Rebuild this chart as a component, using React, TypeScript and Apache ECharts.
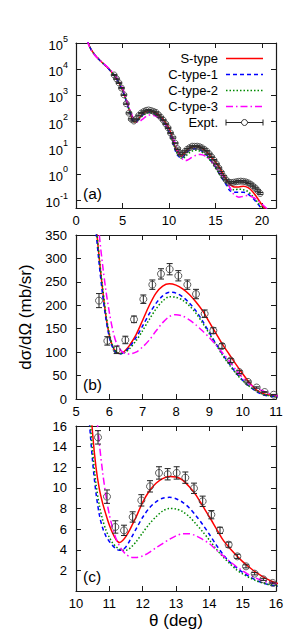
import React, { useEffect, useRef } from 'react';
import * as echarts from 'echarts';

// ---------- data ----------
const theta = [1.2, 1.5, 2.0, 2.5, 3.0, 3.5, 4.0, 4.5, 5.0, 5.25,
  5.5, 5.6, 5.7, 5.8, 5.9, 6.0, 6.1, 6.2, 6.3, 6.4, 6.5, 6.6,
  6.8, 7.0, 7.2, 7.4, 7.6, 7.8, 8.0, 8.2, 8.4, 8.6, 8.8, 9.0, 9.2, 9.4, 9.6, 9.8, 10.0, 10.2, 10.4,
  10.5, 10.6, 10.7, 10.8, 10.9, 11.0, 11.1, 11.2, 11.3, 11.4, 11.5, 11.6, 11.7, 11.8,
  12.0, 12.2, 12.4, 12.6, 12.8, 13.0, 13.2, 13.4, 13.6, 13.8, 14.0, 14.2, 14.4, 14.6, 14.8, 15.0, 15.2, 15.4, 15.6, 15.8, 16.0,
  16.5, 17.0, 17.5, 18.0, 18.5, 19.0, 19.5, 20.0, 20.5, 21.0, 21.6];

const sType = [130000, 68000, 36000, 23000, 15500, 10500, 6500, 3600, 1600, 920,
  490, 375, 298, 232, 176, 136, 112, 101, 97, 99, 105, 114,
  137, 168, 200, 226, 241, 246, 243, 235, 223, 207, 188, 164, 140, 116, 95, 74, 54, 35, 20,
  15.2, 12.0, 9.9, 8.5, 7.4, 6.4, 5.6, 5.0, 4.7, 4.9, 5.3, 5.85, 6.5, 7.15,
  8.6, 9.7, 10.45, 10.9, 11.1, 11.05, 10.75, 10.1, 9.3, 8.25, 7.2, 6.1, 5.0, 4.2, 3.5, 2.85, 2.3, 1.8, 1.4, 1.05, 0.78,
  0.42, 0.32, 0.32, 0.34, 0.3, 0.21, 0.12, 0.065, 0.04, 0.025, 0.015];

const cType1 = [130000, 68000, 36000, 23000, 15500, 10400, 6400, 3550, 1550, 900,
  470, 360, 285, 222, 170, 132, 110, 99, 96, 98, 103, 110,
  131, 156, 182, 204, 220, 228, 226, 218, 205, 188, 166, 142, 118, 95, 75, 56, 40, 27, 16.5,
  12.5, 9.5, 7.4, 6.1, 5.3, 4.8, 4.4, 4.1, 3.95, 4.0, 4.3, 4.8, 5.4, 6.0,
  7.15, 8.05, 8.65, 9.0, 9.08, 8.95, 8.6, 8.05, 7.3, 6.45, 5.5, 4.5, 3.6, 2.85, 2.3, 1.8, 1.4, 1.05, 0.78, 0.6, 0.48,
  0.24, 0.2, 0.2, 0.2, 0.17, 0.12, 0.075, 0.045, 0.03, 0.02, 0.012];

const cType2 = [130000, 68000, 36000, 23000, 15500, 10450, 6450, 3580, 1580, 930,
  500, 380, 300, 238, 180, 140, 114, 101, 97, 97, 101, 107,
  124, 146, 170, 192, 209, 218, 217, 211, 199, 183, 162, 139, 116, 93, 73, 54, 39, 27, 17.5,
  13.5, 10.4, 8.3, 6.9, 5.9, 5.2, 4.65, 4.3, 4.05, 3.95, 3.95, 4.1, 4.4, 4.75,
  5.65, 6.5, 7.2, 7.75, 8.0, 7.95, 7.7, 7.2, 6.5, 5.75, 4.95, 4.1, 3.35, 2.7, 2.1, 1.65, 1.3, 1.0, 0.78, 0.62, 0.55,
  0.3, 0.25, 0.26, 0.25, 0.21, 0.14, 0.085, 0.05, 0.035, 0.022, 0.014];

const cType3 = [125000, 66000, 35000, 23000, 16000, 11000, 7000, 4000, 1900, 1100,
  560, 440, 350, 285, 230, 185, 148, 122, 108, 100, 97, 96,
  100, 111, 126, 145, 163, 176, 180, 177, 169, 158, 145, 131, 115, 98, 81, 62, 45, 32, 23,
  20, 17.5, 14.3, 11.5, 9.2, 7.4, 6.1, 5.1, 4.4, 3.9, 3.55, 3.35, 3.25, 3.25,
  3.4, 3.75, 4.2, 4.6, 5.0, 5.35, 5.55, 5.55, 5.35, 5.0, 4.6, 4.0, 3.45, 2.9, 2.4, 1.95, 1.55, 1.25, 1.0, 0.82, 0.7,
  0.32, 0.16, 0.13, 0.14, 0.15, 0.13, 0.1, 0.07, 0.048, 0.03, 0.02];

const exptTheta = [4.10, 4.36, 4.62, 4.89, 5.15, 5.41,
  5.69, 5.94, 6.22, 6.48, 6.74, 7.02, 7.29, 7.55, 7.81, 8.07, 8.34, 8.60, 8.86, 9.12, 9.38, 9.64, 9.90, 10.16, 10.42,
  10.66, 10.93, 11.18, 11.44, 11.70, 11.96, 12.22, 12.49, 12.75, 13.02, 13.28, 13.54, 13.80, 14.06, 14.32, 14.58, 14.84, 15.10, 15.36, 15.62, 15.90,
  16.16, 16.42, 16.68, 16.94, 17.20, 17.46, 17.72, 17.98, 18.24, 18.50, 18.76, 19.02, 19.28, 19.54, 19.80];

const exptValue = [6000, 4300, 3000, 1900, 1050, 480,
  210, 124, 105, 126, 170, 213, 244, 267, 277, 263, 244, 224, 182, 146, 113, 82, 57.5, 36.5, 24.5,
  14.9, 9.15, 6.21, 5.88, 7.18, 8.79, 10.15, 11.45, 11.32, 11.45, 10.99, 9.96, 8.70, 7.40, 5.88, 4.49, 3.36, 2.39, 1.68, 1.13, 0.78,
  0.58, 0.49, 0.47, 0.48, 0.5, 0.52, 0.53, 0.52, 0.5, 0.46, 0.41, 0.35, 0.29, 0.23, 0.18];

const exptError = [300, 215, 150, 95, 55, 25,
  15, 9, 8, 8, 7, 9, 10, 11, 12, 11, 10, 10, 8, 6, 5, 4, 3, 2, 1.5,
  0.65, 0.65, 0.6, 0.5, 0.5, 0.55, 0.55, 0.6, 0.55, 0.6, 0.55, 0.5, 0.5, 0.4, 0.3, 0.25, 0.2, 0.15, 0.12, 0.1, 0.08,
  0.04, 0.035, 0.035, 0.035, 0.035, 0.035, 0.035, 0.035, 0.035, 0.03, 0.03, 0.025, 0.02, 0.02, 0.015];

const seriesNames = ['S-type', 'C-type-1', 'C-type-2', 'C-type-3'];
const exptName = 'Expt.';
const panelLabels = ['(a)', '(b)', '(c)'];
const yTitle = 'dσ/dΩ (mb/sr)';
const xTitle = 'θ (deg)';

// ---------- styling ----------
const FONT = '"Liberation Sans", Arial, Helvetica, sans-serif';
const AX = '#1a1a1a';
const curveStyles = [
  { color: '#ff0000', dash: 'solid' as any },
  { color: '#0000ff', dash: [4, 3] },
  { color: '#008a00', dash: [1.5, 2] },
  { color: '#ff00ff', dash: [7, 3, 1.5, 3] },
];
const curveValues = [sType, cType1, cType2, cType3];

const panels = [
  { xMin: 0, xMax: 21.5, xInt: 5, log: true, yMin: 0.05, yMax: 100000, yInt: 0, top: 43, height: 165, sym: 6 },
  { xMin: 5, xMax: 11, xInt: 1, log: false, yMin: 0, yMax: 350, yInt: 50, top: 235, height: 164, sym: 7 },
  { xMin: 10, xMax: 16, xInt: 1, log: false, yMin: 0, yMax: 16, yInt: 2, top: 426, height: 165, sym: 7 },
];
const GRID_LEFT = 76;
const GRID_W = 200;

function buildOption() {
  const grid: any[] = [];
  const xAxis: any[] = [];
  const yAxis: any[] = [];
  const series: any[] = [];

  panels.forEach((p, i) => {
    grid.push({ left: GRID_LEFT, top: p.top, width: GRID_W, height: p.height, containLabel: false });
    const axisLine = { show: true, onZero: false, lineStyle: { color: AX, width: 1.2 } };
    const axisTick = { show: true, inside: true, length: 5, lineStyle: { color: AX, width: 1 } };
    const xFmt = (v: number) => {
      const k = Math.round(v / p.xInt);
      return Math.abs(v - k * p.xInt) < 1e-6 ? String(Math.round(v * 100) / 100) : '';
    };
    const xBase = {
      type: 'value', gridIndex: i, min: p.xMin, max: p.xMax, interval: p.xInt,
      axisLine, axisTick, splitLine: { show: false },
    };
    xAxis.push({
      ...xBase, position: 'bottom',
      axisLabel: { show: true, fontSize: 13, fontFamily: FONT, color: '#000', margin: 6, formatter: xFmt },
      ...(i === 2 ? {
        name: xTitle, nameLocation: 'middle', nameGap: 21,
        nameTextStyle: { fontSize: 17, fontFamily: FONT, color: '#000' },
      } : {}),
    });
    xAxis.push({ ...xBase, position: 'top', axisLabel: { show: false } });

    let yBase: any;
    let yLabel: any;
    if (p.log) {
      yBase = {
        type: 'log', logBase: 10, gridIndex: i, min: p.yMin, max: p.yMax,
        axisLine, axisTick, splitLine: { show: false },
      };
      yLabel = {
        show: true, margin: 8, fontSize: 13, fontFamily: FONT, color: '#000',
        formatter: (v: number) => {
          const e = Math.log10(v);
          const r = Math.round(e);
          if (Math.abs(e - r) > 1e-6) return '';
          return '{b|10}{s|' + r + '}';
        },
        rich: {
          b: { fontSize: 13, fontFamily: FONT, color: '#000', lineHeight: 18, verticalAlign: 'bottom' },
          s: { fontSize: 9, fontFamily: FONT, color: '#000', lineHeight: 9, verticalAlign: 'top' },
        },
      };
    } else {
      yBase = {
        type: 'value', gridIndex: i, min: p.yMin, max: p.yMax, interval: p.yInt,
        axisLine, axisTick, splitLine: { show: false },
      };
      yLabel = {
        show: true, margin: 9, fontSize: 13, fontFamily: FONT, color: '#000',
        formatter: (v: number) => (i === 2 && v === 0 ? '' : String(v)),
      };
    }
    yAxis.push({
      ...yBase, position: 'left', axisLabel: yLabel,
      ...(i === 1 ? {
        name: yTitle, nameLocation: 'middle', nameGap: 38,
        nameTextStyle: { fontSize: 17, fontFamily: FONT, color: '#000' },
      } : {}),
    });
    yAxis.push({ ...yBase, position: 'right', axisLabel: { show: false } });

    const xi = 2 * i;
    const lo = p.xMin - 0.6;
    const hi = p.xMax + 0.6;

    curveValues.forEach((vals, c) => {
      const data: number[][] = [];
      theta.forEach((t, k) => {
        if (t >= lo && t <= hi) data.push([t, vals[k]]);
      });
      series.push({
        type: 'line', name: seriesNames[c], xAxisIndex: xi, yAxisIndex: xi,
        data, showSymbol: false, symbol: 'none', smooth: 0.3, clip: true, silent: true, z: 2,
        lineStyle: { color: curveStyles[c].color, width: 1.5, type: curveStyles[c].dash },
      });
    });

    const ed: number[][] = [];
    exptTheta.forEach((t, k) => {
      if (t >= p.xMin && t <= p.xMax) ed.push([t, exptValue[k], exptError[k]]);
    });
    series.push({
      type: 'custom', name: exptName, xAxisIndex: xi, yAxisIndex: xi, clip: true, silent: true, z: 3,
      data: ed, encode: { x: 0, y: 1 },
      renderItem: (params: any, api: any) => {
        const x = api.value(0);
        const y = api.value(1);
        const e = api.value(2);
        const t = api.coord([x, y + e]);
        const b = api.coord([x, y - e]);
        const hw = 3;
        const st = { stroke: '#222', lineWidth: 1, fill: null };
        return {
          type: 'group',
          children: [
            { type: 'line', shape: { x1: t[0], y1: t[1], x2: b[0], y2: b[1] }, style: st },
            { type: 'line', shape: { x1: t[0] - hw, y1: t[1], x2: t[0] + hw, y2: t[1] }, style: st },
            { type: 'line', shape: { x1: b[0] - hw, y1: b[1], x2: b[0] + hw, y2: b[1] }, style: st },
          ],
        };
      },
    });
    series.push({
      type: 'scatter', name: exptName, xAxisIndex: xi, yAxisIndex: xi, clip: true, silent: true, z: 4,
      data: ed.map((d) => [d[0], d[1]]), symbol: 'circle', symbolSize: p.sym,
      itemStyle: { color: 'rgba(0,0,0,0)', borderColor: '#3a3a3a', borderWidth: 1 },
    });
  });

  // legend (gnuplot style key: text right-aligned, sample on the right)
  const graphic: any[] = [];
  const keyTextRight = 218;
  const keyX1 = 226;
  const keyX2 = 263;
  const keyTop = 58.5;
  const keyStep = 16;
  const keyNames = [...seriesNames, exptName];
  keyNames.forEach((nm, k) => {
    const cy = keyTop + k * keyStep;
    graphic.push({
      type: 'text', silent: true,
      style: { text: nm, x: keyTextRight, y: cy, textAlign: 'right', textVerticalAlign: 'middle', fontSize: 13, fontFamily: FONT, fill: '#000' },
    });
    if (k < 4) {
      const cs = curveStyles[k];
      graphic.push({
        type: 'line', silent: true,
        shape: { x1: keyX1, y1: cy, x2: keyX2, y2: cy },
        style: { stroke: cs.color, lineWidth: 1.5, lineDash: Array.isArray(cs.dash) ? cs.dash : null },
      });
    } else {
      const st = { stroke: '#222', lineWidth: 1 };
      graphic.push({ type: 'line', silent: true, shape: { x1: keyX1, y1: cy, x2: keyX2, y2: cy }, style: st });
      graphic.push({ type: 'line', silent: true, shape: { x1: keyX1, y1: cy - 3, x2: keyX1, y2: cy + 3 }, style: st });
      graphic.push({ type: 'line', silent: true, shape: { x1: keyX2, y1: cy - 3, x2: keyX2, y2: cy + 3 }, style: st });
      graphic.push({
        type: 'circle', silent: true, shape: { cx: (keyX1 + keyX2) / 2, cy, r: 3 },
        style: { fill: '#fff', stroke: '#3a3a3a', lineWidth: 1 },
      });
    }
  });
  panels.forEach((p, i) => {
    graphic.push({
      type: 'text', silent: true,
      style: {
        text: panelLabels[i], x: GRID_LEFT + 7, y: p.top + p.height - 15,
        textAlign: 'left', textVerticalAlign: 'middle', fontSize: 15.5, fontFamily: FONT, fill: '#000',
      },
    });
  });

  return {
    animation: false,
    backgroundColor: '#ffffff',
    grid, xAxis, yAxis, series, graphic,
  };
}

export default function App() {
  const ref = useRef<HTMLDivElement>(null);
  useEffect(() => {
    if (!ref.current) return;
    const chart = echarts.init(ref.current, undefined, { renderer: 'svg' });
    chart.setOption(buildOption() as any);
    return () => chart.dispose();
  }, []);
  return (
    <div
      ref={ref}
      style={{ position: 'absolute', left: 0, top: 0, width: 293, height: 641, background: '#fff' }}
    />
  );
}
